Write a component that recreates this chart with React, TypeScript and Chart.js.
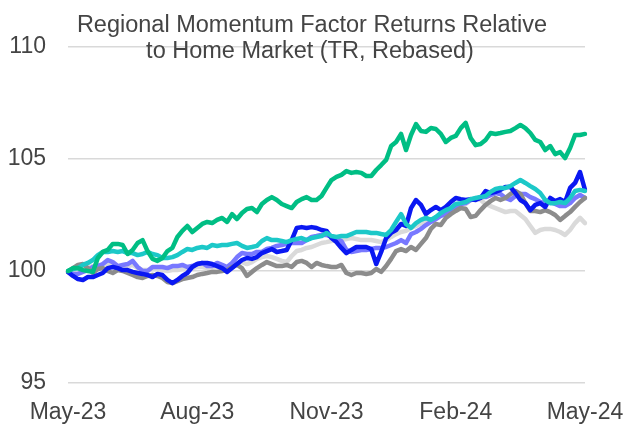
import React, { useEffect, useRef } from "react";
import { Chart, registerables } from "chart.js";

Chart.register(...registerables);

const titleLines = ["Regional Momentum Factor Returns Relative", "to Home Market (TR, Rebased)"];
const tickLabels = ["May-23", "Aug-23", "Nov-23", "Feb-24", "May-24"];
const yTicks = [95, 100, 105, 110];

const greenSeries = [
  100.00, 100.13, 100.13, 100.04, 100.00, 99.96, 100.58, 100.85, 100.94, 101.21,
  101.21, 101.16, 100.76, 100.94, 101.25, 101.38, 100.89, 100.54, 100.45, 100.58,
  100.89, 101.03, 101.52, 101.79, 102.01, 101.74, 101.92, 102.10, 102.19, 102.14,
  102.28, 102.37, 102.19, 102.54, 102.32, 102.59, 102.77, 102.81, 102.63, 102.99,
  103.17, 103.30, 103.17, 102.99, 102.90, 102.81, 103.08, 103.21, 103.30, 103.17,
  103.17, 103.35, 103.71, 104.06, 104.20, 104.29, 104.46, 104.38, 104.42, 104.38,
  104.24, 104.24, 104.51, 104.73, 104.96, 105.58, 105.76, 106.12, 105.40, 106.07,
  106.56, 106.25, 106.21, 106.38, 106.34, 106.12, 105.76, 105.94, 106.03, 106.38,
  106.61, 105.94, 105.62, 105.67, 105.85, 106.16, 106.12, 106.16, 106.21, 106.25,
  106.38, 106.52, 106.38, 106.16, 105.85, 105.76, 105.40, 105.58, 105.22, 105.31,
  105.04, 105.49, 106.07, 106.07, 106.12,
];

const cyanSeries = [
  100.00, 100.09, 100.13, 100.27, 100.36, 100.49, 100.71, 100.85, 100.85, 100.89,
  100.85, 100.89, 100.80, 100.80, 100.71, 100.76, 100.85, 100.76, 100.71, 100.58,
  100.58, 100.62, 100.71, 100.85, 100.98, 100.94, 101.03, 101.07, 101.03, 101.16,
  101.12, 101.16, 101.16, 101.21, 101.25, 101.12, 101.03, 101.07, 101.12, 101.34,
  101.47, 101.38, 101.38, 101.34, 101.29, 101.38, 101.43, 101.47, 101.38, 101.47,
  101.52, 101.56, 101.70, 101.56, 101.52, 101.56, 101.56, 101.65, 101.74, 101.74,
  101.74, 101.70, 101.70, 101.65, 101.61, 101.83, 102.19, 102.54, 102.10, 101.92,
  102.14, 102.28, 102.37, 102.28, 102.41, 102.59, 102.72, 102.81, 102.99, 103.03,
  103.08, 103.21, 103.26, 103.30, 103.35, 103.53, 103.66, 103.71, 103.71, 103.79,
  103.93, 104.06, 103.93, 103.79, 103.66, 103.48, 103.17, 103.03, 103.03, 103.08,
  103.03, 103.26, 103.57, 103.62, 103.57,
];

const blueSeries = [
  99.96, 99.78, 99.64, 99.60, 99.73, 99.73, 99.82, 99.91, 100.13, 100.18,
  100.13, 100.04, 100.04, 99.96, 99.91, 99.87, 99.82, 99.73, 99.87, 99.82,
  99.60, 99.46, 99.60, 99.78, 99.91, 100.18, 100.31, 100.36, 100.36, 100.31,
  100.22, 100.13, 99.96, 100.13, 100.31, 100.49, 100.58, 100.54, 100.62, 100.80,
  100.89, 100.98, 100.85, 100.89, 100.94, 101.38, 101.92, 101.96, 101.92, 101.96,
  101.92, 101.83, 101.79, 101.47, 101.29, 101.03, 100.80, 100.94, 101.07, 101.07,
  101.07, 100.98, 100.31, 100.85, 101.47, 101.70, 101.83, 102.10, 102.01, 102.81,
  103.17, 102.95, 102.54, 102.72, 102.86, 102.72, 102.86, 103.08, 103.26, 103.21,
  103.17, 103.21, 103.17, 103.26, 103.57, 103.48, 103.53, 103.62, 103.75, 103.75,
  103.48, 103.17, 103.03, 102.72, 102.95, 103.03, 102.86, 103.26, 103.12, 103.21,
  103.08, 103.71, 103.93, 104.42, 103.62,
];

const greySeries = [
  99.96, 100.13, 100.27, 100.31, 100.13, 99.91, 100.09, 100.13, 100.00, 99.91,
  100.04, 100.00, 99.91, 99.82, 99.73, 99.69, 99.78, 99.82, 99.78, 99.69,
  99.51, 99.46, 99.55, 99.64, 99.69, 99.73, 99.82, 99.87, 99.91, 99.96,
  99.96, 100.00, 100.04, 100.18, 100.27, 100.13, 99.78, 99.96, 100.13, 100.27,
  100.40, 100.31, 100.22, 100.22, 100.27, 100.18, 100.40, 100.45, 100.36, 100.18,
  100.36, 100.27, 100.22, 100.18, 100.18, 100.27, 99.91, 99.82, 99.91, 99.91,
  99.87, 99.91, 100.09, 99.96, 100.22, 100.54, 100.89, 100.98, 100.89, 101.07,
  100.94, 101.21, 101.47, 101.88, 102.10, 102.05, 102.37, 102.54, 102.68, 102.81,
  102.77, 102.41, 102.46, 102.72, 102.95, 103.12, 103.26, 103.17, 103.26, 103.44,
  103.57, 103.44, 103.03, 102.68, 102.68, 102.63, 102.72, 102.63, 102.50, 102.28,
  102.46, 102.63, 102.86, 103.08, 103.26,
];

const periwinkleSeries = [
  99.96, 99.87, 99.87, 99.96, 100.04, 100.18, 100.22, 100.31, 100.49, 100.40,
  100.22, 100.27, 100.31, 100.45, 100.18, 100.00, 100.00, 100.18, 100.18, 100.18,
  100.13, 100.22, 100.22, 100.27, 100.18, 100.22, 100.31, 100.36, 100.22, 100.22,
  100.36, 100.27, 100.18, 100.36, 100.62, 100.80, 100.76, 100.76, 100.85, 100.85,
  100.98, 101.03, 101.12, 101.16, 101.21, 101.25, 101.25, 101.25, 101.38, 101.52,
  101.56, 101.61, 101.61, 101.52, 101.43, 101.34, 100.94, 100.85, 100.89, 100.94,
  100.94, 100.98, 101.03, 101.03, 101.07, 101.16, 101.25, 101.38, 101.25, 101.65,
  101.74, 101.88, 102.05, 102.19, 102.32, 102.46, 102.54, 102.63, 102.81, 102.99,
  103.03, 103.17, 103.21, 103.30, 103.30, 103.39, 103.48, 103.44, 103.26, 103.17,
  103.35, 103.44, 103.44, 103.30, 103.21, 103.08, 103.03, 103.08, 102.99, 102.90,
  102.90, 103.03, 103.26, 103.39, 103.26,
];

const lightGreySeries = [
  100.00, 100.04, 100.09, 100.13, 100.13, 100.22, 100.27, 100.22, 100.31, 100.27,
  100.18, 100.22, 100.22, 100.27, 100.13, 100.04, 100.04, 100.09, 100.09, 100.04,
  100.00, 100.04, 100.04, 100.09, 100.09, 100.13, 100.18, 100.18, 100.13, 100.13,
  100.18, 100.18, 100.13, 100.22, 100.36, 100.40, 100.31, 100.40, 100.54, 100.62,
  100.67, 100.62, 100.54, 100.45, 100.40, 100.67, 100.89, 100.94, 101.03, 101.07,
  101.16, 101.25, 101.29, 101.34, 101.38, 101.38, 101.43, 101.47, 101.43, 101.38,
  101.38, 101.38, 101.34, 101.29, 101.38, 101.52, 101.65, 101.74, 101.79, 101.92,
  102.01, 102.14, 102.19, 102.28, 102.37, 102.50, 102.59, 102.63, 102.72, 102.81,
  102.99, 103.17, 103.26, 103.17, 102.99, 102.90, 102.81, 102.72, 102.63, 102.68,
  102.68, 102.50, 102.32, 102.01, 101.70, 101.83, 101.88, 101.88, 101.83, 101.74,
  101.61, 101.83, 102.14, 102.37, 102.14,
];

const seriesColors = ["#00BE84", "#1CC8C8", "#0A18F2", "#8C8C8C", "#7878FF", "#DADADA"];

const TEXT_COLOR = "#444444";
const FONT_FAMILY = '"Liberation Sans", Arial, sans-serif';

export default function App() {
  const canvasRef = useRef<HTMLCanvasElement | null>(null);

  useEffect(() => {
    if (!canvasRef.current) return;
    const n = greenSeries.length;
    const step = (n - 1) / (tickLabels.length - 1);
    const labels: string[] = [];
    for (let i = 0; i < n; i++) {
      const k = i / step;
      labels.push(Number.isInteger(k) ? tickLabels[k] : "");
    }
    const all = [greenSeries, cyanSeries, blueSeries, greySeries, periwinkleSeries, lightGreySeries];

    const titlePlugin = {
      id: "twoLineTitle",
      afterDraw(chart: any) {
        const ctx = chart.ctx;
        ctx.save();
        ctx.font = `23.5px ${FONT_FAMILY}`;
        ctx.fillStyle = TEXT_COLOR;
        ctx.textAlign = "center";
        ctx.textBaseline = "alphabetic";
        ctx.fillText(titleLines[0], 312, 32);
        ctx.fillText(titleLines[1], 310, 58);
        ctx.restore();
      },
    };

    const chart = new Chart(canvasRef.current, {
      type: "line",
      data: {
        labels,
        datasets: all.map((d, i) => ({
          data: d,
          borderColor: seriesColors[i],
          backgroundColor: seriesColors[i],
          borderWidth: 4.5,
          borderJoinStyle: "round" as const,
          borderCapStyle: "round" as const,
          pointRadius: 0,
          tension: 0,
          fill: false,
          order: i,
        })),
      },
      options: {
        animation: false,
        responsive: false,
        layout: { padding: { top: 47, right: 40, left: 0, bottom: 0 } },
        plugins: { legend: { display: false }, tooltip: { enabled: false }, title: { display: false } },
        scales: {
          x: {
            type: "category",
            grid: { display: false, drawTicks: false },
            border: { display: false },
            ticks: {
              autoSkip: false,
              maxRotation: 0,
              minRotation: 0,
              padding: 16,
              color: TEXT_COLOR,
              font: { size: 23, family: FONT_FAMILY },
            },
            afterFit: (s: any) => {
              s.height = 43;
              s.paddingLeft = 0;
              s.paddingRight = 0;
            },
          },
          y: {
            min: 95,
            max: 110,
            afterBuildTicks: (s: any) => {
              s.ticks = yTicks.map((v) => ({ value: v }));
            },
            grid: { color: "#D9D9D9", lineWidth: 1.5, drawTicks: false },
            border: { display: false },
            ticks: {
              padding: 22,
              color: TEXT_COLOR,
              font: { size: 23, family: FONT_FAMILY },
            },
            afterFit: (s: any) => {
              s.width = 68;
              s.paddingTop = 0;
              s.paddingBottom = 0;
            },
          },
        },
      },
      plugins: [titlePlugin],
    });
    return () => chart.destroy();
  }, []);

  return (
    <div style={{ position: "fixed", left: 0, top: 0, width: 625, height: 426, background: "#fff" }}>
      <canvas ref={canvasRef} width={625} height={426} />
    </div>
  );
}
